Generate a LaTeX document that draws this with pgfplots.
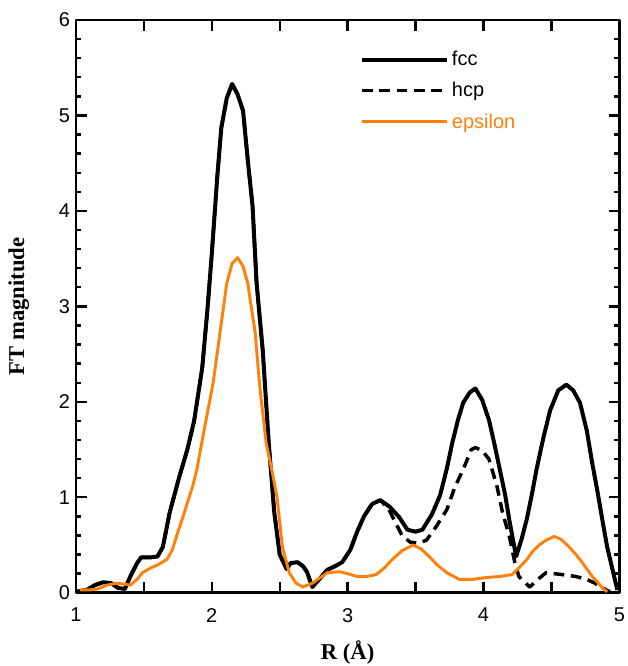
\documentclass[border=0pt]{standalone}
\usepackage{fontspec}
\setmainfont{Liberation Serif}
\setsansfont{Liberation Sans}
\usepackage{pgfplots}
\pgfplotsset{compat=1.18}
\usetikzlibrary{calc}
\definecolor{epsorange}{RGB}{255,128,10}

\begin{document}
\begin{tikzpicture}
\begin{axis}[
  name=ax,
  scale only axis,
  width=408pt, height=430pt,
  xmin=1, xmax=5, ymin=0, ymax=6,
  xtick={1,1.5,...,5},
  xticklabels={1,,2,,3,,4,,5},
  ytick={0,1,...,6},
  minor ytick={0.2,0.4,...,5.8},
  tick align=inside,
  major tick length=8pt, minor tick length=4pt,
  every tick/.style={draw=black, line width=1.8pt},
  every minor tick/.style={draw=black, line width=1.8pt},
  axis line style={line width=2pt},
  tick label style={font=\sffamily\fontsize{15}{18}\selectfont},
  /pgf/number format/assume math mode=true,
  xticklabel style={yshift=-8pt},
  yticklabel style={xshift=-1pt},
  xlabel={R (Å)}, ylabel={FT magnitude},
  every axis x label/.style={at={(rel axis cs:0.5,0)}, anchor=center, yshift=-45pt,
    font=\bfseries\fontsize{17}{20}\selectfont},
  every axis y label/.style={at={(rel axis cs:0,0.5)}, xshift=-43pt, anchor=center, rotate=90,
    font=\bfseries\fontsize{17}{20}\selectfont},
  legend style={at={(0.515,0.955)}, anchor=north west, draw=none, fill=none,
    font=\sffamily\fontsize{15}{18}\selectfont, row sep=7pt,
    /tikz/every even column/.style={column sep=2pt}},
  legend cell align=left,
  legend image code/.code={\draw[#1] (0pt,0pt) -- (64pt,0pt);},
  line join=round,
]
\addplot[black, line width=3pt] coordinates {
(1.00,0.01) (1.08,0.03) (1.14,0.08) (1.20,0.11) (1.26,0.10) (1.31,0.05) (1.36,0.04)
(1.40,0.17) (1.45,0.31) (1.48,0.37) (1.55,0.37) (1.60,0.38) (1.64,0.48) (1.69,0.84)
(1.76,1.21) (1.82,1.50) (1.87,1.80) (1.93,2.36) (1.97,3.00) (2.00,3.55) (2.04,4.35)
(2.07,4.87) (2.11,5.18) (2.15,5.33) (2.19,5.22) (2.23,5.05) (2.265,4.53) (2.30,4.05)
(2.33,3.24) (2.375,2.54) (2.42,1.55) (2.46,0.84) (2.50,0.40) (2.55,0.25) (2.58,0.31)
(2.63,0.32) (2.67,0.28) (2.70,0.22) (2.74,0.06) (2.79,0.14) (2.85,0.24) (2.91,0.28)
(2.96,0.32) (3.02,0.45) (3.07,0.64) (3.12,0.80) (3.18,0.93) (3.24,0.97) (3.31,0.90)
(3.38,0.79) (3.44,0.66) (3.50,0.64) (3.55,0.66) (3.62,0.82) (3.68,1.02) (3.73,1.30)
(3.77,1.57) (3.81,1.80) (3.85,1.99) (3.90,2.10) (3.94,2.14) (3.99,2.02) (4.04,1.81)
(4.08,1.56) (4.12,1.29) (4.16,1.02) (4.19,0.76) (4.24,0.38) (4.28,0.56) (4.32,0.78)
(4.36,1.06) (4.39,1.29) (4.44,1.62) (4.49,1.91) (4.55,2.12) (4.61,2.18) (4.66,2.12)
(4.71,1.99) (4.76,1.70) (4.80,1.36) (4.84,1.05) (4.875,0.76) (4.91,0.48) (4.95,0.24)
(4.985,0.03)
};
\addlegendentry{fcc}
\addplot[black, line width=2.6pt, dash pattern=on 8pt off 5pt] coordinates {
(1.00,0.01) (1.08,0.03) (1.14,0.08) (1.20,0.11) (1.26,0.10) (1.31,0.05) (1.36,0.04)
(1.40,0.17) (1.45,0.31) (1.48,0.37) (1.55,0.37) (1.60,0.38) (1.64,0.48) (1.69,0.84)
(1.76,1.21) (1.82,1.50) (1.87,1.80) (1.93,2.36) (1.97,3.00) (2.00,3.55) (2.04,4.35)
(2.07,4.87) (2.11,5.18) (2.15,5.33) (2.19,5.22) (2.23,5.05) (2.265,4.53) (2.30,4.05)
(2.33,3.24) (2.375,2.54) (2.42,1.55) (2.46,0.84) (2.50,0.40) (2.55,0.25) (2.58,0.31)
(2.63,0.32) (2.67,0.28) (2.70,0.22) (2.74,0.06) (2.79,0.14) (2.85,0.24) (2.91,0.28)
(2.96,0.32) (3.02,0.45) (3.07,0.64) (3.12,0.80) (3.18,0.93) (3.24,0.97) (3.30,0.88)
(3.35,0.74) (3.40,0.60) (3.46,0.53) (3.52,0.52) (3.58,0.55) (3.65,0.69) (3.73,0.87)
(3.79,1.11) (3.85,1.29) (3.91,1.50) (3.94,1.52) (3.99,1.49) (4.04,1.40) (4.10,1.11)
(4.14,0.84) (4.19,0.59) (4.23,0.32) (4.26,0.17) (4.34,0.06) (4.40,0.14) (4.46,0.21)
(4.58,0.19) (4.68,0.17) (4.76,0.14) (4.82,0.10) (4.875,0.05) (4.93,0.01)
};
\addlegendentry{hcp}
\addplot[epsorange, line width=2.2pt] coordinates {
(1.03,0.03) (1.10,0.03) (1.16,0.04) (1.23,0.08) (1.30,0.10) (1.36,0.09) (1.40,0.08)
(1.45,0.14) (1.49,0.21) (1.55,0.26) (1.60,0.29) (1.67,0.35) (1.71,0.45) (1.74,0.59)
(1.78,0.76) (1.82,0.94) (1.86,1.12) (1.89,1.29) (1.93,1.60) (1.97,1.90) (2.01,2.20)
(2.06,2.72) (2.11,3.24) (2.15,3.45) (2.19,3.51) (2.23,3.42) (2.265,3.24) (2.29,3.00)
(2.32,2.72) (2.35,2.20) (2.40,1.57) (2.44,1.30) (2.48,1.00) (2.52,0.48) (2.57,0.21)
(2.62,0.10) (2.67,0.06) (2.74,0.10) (2.80,0.16) (2.85,0.21) (2.94,0.22) (3.00,0.20)
(3.07,0.17) (3.14,0.17) (3.21,0.19) (3.27,0.26) (3.33,0.35) (3.40,0.44) (3.48,0.50)
(3.54,0.46) (3.60,0.38) (3.66,0.29) (3.73,0.21) (3.82,0.14) (3.92,0.14) (4.02,0.16)
(4.12,0.17) (4.21,0.19) (4.26,0.26) (4.32,0.35) (4.36,0.43) (4.41,0.50) (4.46,0.55)
(4.52,0.59) (4.57,0.56) (4.63,0.48) (4.68,0.40) (4.73,0.31) (4.80,0.17) (4.84,0.11)
(4.875,0.05) (4.91,0.01)
};
\addlegendentry{\textcolor{epsorange}{epsilon}}
\end{axis}
\pgfresetboundingbox
\path[use as bounding box] ($(ax.south west)+(-57pt,-55pt)$) rectangle ($(ax.north east)+(6pt,15pt)$);
\end{tikzpicture}
\end{document}
